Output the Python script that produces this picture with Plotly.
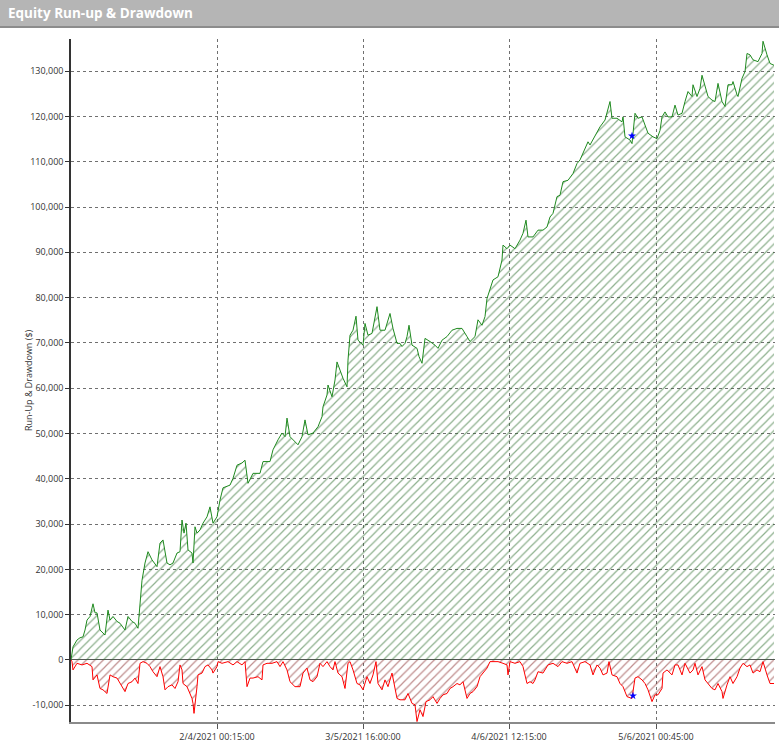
import plotly.graph_objects as go

# ---- data (trade number -> $) ----
equity_trade = [0, 2, 6, 9, 12, 14, 16, 19, 22, 24, 26, 29, 34, 37, 39, 42, 46, 49, 54, 57, 61, 64, 67, 69, 71, 74,
                77, 81, 86, 89, 92, 96, 99, 102, 106, 109, 111, 113, 115, 117, 121, 122, 124, 126, 129, 132, 136, 139,
                142, 146, 149, 152, 159, 162, 166, 171, 174, 177, 182, 189, 192, 199, 202, 207, 211, 214, 216, 219,
                224, 227, 231, 234, 237, 242, 247, 251, 252, 256, 257, 261, 264, 266, 269, 272, 276, 277, 279, 282,
                285, 287, 292, 294, 297, 301, 306, 309, 314, 319, 322, 326, 329, 331, 334, 336, 338, 341, 346, 348,
                351, 354, 359, 364, 367, 371, 376, 381, 386, 391, 396, 399, 404, 407, 411, 414, 416, 419, 422, 427,
                431, 432, 436, 439, 444, 449, 452, 455, 457, 462, 467, 472, 476, 479, 482, 486, 489, 492, 497, 502,
                506, 509, 514, 517, 519, 526, 529, 534, 537, 539, 541, 546, 551, 552, 554, 559, 561, 564, 567, 571,
                574, 577, 582, 586, 589, 591, 594, 597, 601, 604, 607, 611, 614, 617, 621, 622, 626, 629, 631, 634,
                637, 641, 644, 647, 651, 654, 657, 661, 662, 666, 667, 671, 674, 676, 679, 682, 687, 691, 692, 696,
                699, 703]
equity_value = [0, 2900, 4400, 4900, 5100, 6600, 8800, 9600, 12400, 10400, 10400, 6600, 5500, 11000, 8800, 9600,
                8500, 8100, 6600, 9600, 8500, 8100, 7000, 12500, 17600, 21400, 23900, 22100, 20600, 25800, 26500,
                21400, 21000, 21400, 23600, 23900, 30900, 28000, 30200, 24300, 23600, 21400, 29400, 28000, 28700,
                30200, 31600, 33800, 30200, 31600, 35300, 38000, 38600, 40100, 43000, 43500, 44100, 39000, 41200,
                41200, 43800, 43800, 46400, 48600, 50100, 49300, 53400, 49300, 48200, 47500, 49300, 53000, 49700,
                50100, 51500, 53700, 55900, 58500, 60700, 58100, 61800, 65800, 64000, 62200, 60300, 66200, 71700,
                72800, 75900, 70600, 69500, 74300, 71700, 72100, 78000, 72800, 72800, 76500, 73200, 69900, 69900,
                69200, 69900, 71400, 73900, 69500, 68800, 67000, 65500, 71000, 70300, 69500, 68800, 70600, 71400,
                72800, 73200, 73200, 71400, 70300, 71400, 75100, 73900, 75800, 79800, 82000, 83900, 84600, 88300,
                91600, 90800, 91600, 90800, 92700, 94200, 97100, 93400, 93400, 94900, 94900, 95600, 97800, 98600,
                102300, 102600, 105600, 105900, 107400, 109600, 110400, 112900, 114400, 113700, 116300, 117700,
                119200, 121800, 123300, 119600, 119600, 118800, 119900, 115500, 114800, 114000, 120700, 119600,
                119900, 118100, 116300, 115500, 115100, 116900, 119900, 121000, 119900, 119900, 122500, 120300,
                120700, 123300, 125500, 124400, 127000, 124400, 126200, 129100, 127000, 124400, 123600, 123300,
                127300, 123300, 122200, 127000, 127000, 127700, 124800, 124400, 128400, 129900, 133900, 133600,
                132500, 132100, 133900, 136600, 133600, 131700, 131300]

drawdown_trade = [0, 1, 2, 6, 11, 16, 21, 22, 26, 29, 32, 36, 39, 42, 46, 49, 52, 54, 57, 61, 64, 67, 69, 72, 76, 79,
                  82, 86, 89, 92, 94, 97, 101, 104, 107, 109, 111, 112, 116, 119, 121, 122, 123, 126, 127, 131, 134,
                  137, 141, 142, 146, 147, 151, 157, 162, 166, 171, 174, 176, 179, 182, 187, 191, 192, 196, 201, 206,
                  209, 212, 216, 219, 224, 229, 232, 236, 239, 242, 246, 249, 252, 256, 259, 262, 264, 267, 271, 274,
                  277, 279, 282, 286, 289, 292, 296, 299, 302, 305, 307, 311, 314, 317, 321, 324, 326, 329, 334, 337,
                  341, 344, 346, 349, 352, 355, 359, 362, 366, 369, 372, 376, 379, 382, 386, 389, 392, 396, 399, 402,
                  406, 409, 412, 416, 419, 422, 427, 432, 436, 437, 439, 444, 449, 452, 456, 459, 462, 464, 467, 472,
                  477, 482, 487, 491, 496, 501, 504, 506, 509, 514, 519, 522, 526, 529, 532, 536, 538, 541, 546, 549,
                  552, 556, 561, 564, 567, 571, 574, 577, 581, 584, 587, 591, 592, 596, 601, 604, 607, 611, 614, 619,
                  622, 624, 627, 631, 634, 637, 641, 644, 647, 651, 652, 656, 659, 662, 666, 669, 672, 676, 679, 682,
                  686, 689, 692, 696, 699, 703]
drawdown_value = [0, -370, -2200, -740, -1100, -740, -1470, -4400, -3300, -6300, -6600, -7400, -3300, -3700, -4000,
                  -5200, -6300, -7000, -5200, -4800, -4000, -5200, -740, -370, -740, -1470, -2600, -3700, -1470,
                  -3700, -6600, -5900, -5500, -6300, -4800, -1100, -2200, -5200, -5900, -7400, -8500, -9600, -11800,
                  -5900, -3300, -2900, -1470, -1100, -2200, -2900, -1470, -370, -740, -370, -1100, -370, -1100, -370,
                  -5900, -4000, -4000, -3700, -4400, -1100, -740, -740, -370, -1470, -370, -2200, -4800, -5900,
                  -5900, -2900, -1800, -4400, -4800, -3700, -740, -1470, -370, -1470, -2200, -370, -2900, -3700,
                  -6300, -740, -370, -2200, -5200, -5500, -6600, -3700, -5200, -3300, -370, -5200, -6600, -4400,
                  -5900, -2900, -6600, -8500, -8800, -8800, -7400, -9600, -9900, -13600, -11000, -12500, -9200,
                  -8800, -8100, -9600, -8500, -7700, -7400, -6300, -5900, -5200, -5500, -4800, -8500, -7400, -7000,
                  -5900, -3700, -2900, -1800, -370, -370, -370, -740, -1100, -3300, -370, -740, -370, -1470, -5200,
                  -4800, -5200, -4400, -2600, -2900, -1100, -740, -1470, -370, -740, -370, -1800, -2900, -740, -370,
                  -1100, -3300, -1100, -1800, -3300, -2900, -370, -3300, -3700, -5200, -5900, -8100, -8500, -4000,
                  -3700, -4400, -5200, -6600, -9200, -7700, -7700, -6300, -2900, -2200, -3300, -1100, -1100, -3300,
                  -740, -2900, -2200, -740, -3300, -1470, -4400, -5200, -6300, -6600, -5200, -7000, -8500, -5500,
                  -3700, -5200, -3700, -1800, -740, -1470, -1100, -2900, -2200, -2600, -370, -3300, -5200, -5200]

marker_trade = [561, 562]
marker_value = [115700, -7900]

x_tick_trades = [146, 292, 438, 585]
x_tick_labels = ["2/4/2021 00:15:00", "3/5/2021 16:00:00", "4/6/2021 12:15:00", "5/6/2021 00:45:00"]
y_tick_values = list(range(-10000, 130001, 10000))
y_tick_labels = ["-10,000", "0", "10,000", "20,000", "30,000", "40,000", "50,000", "60,000", "70,000",
                 "80,000", "90,000", "100,000", "110,000", "120,000", "130,000"]

FONT = "Open Sans"

fig = go.Figure()

fig.add_trace(go.Scatter(
    x=equity_trade, y=equity_value, mode="lines",
    line=dict(color="#1f8a1f", width=1),
    fill="tozeroy", fillcolor="rgba(255,255,255,0)",
    fillpattern=dict(shape="/", fgcolor="#2e6e2e", fgopacity=0.55, bgcolor="rgba(255,255,255,0)",
                     size=6, solidity=0.2),
    hoverinfo="skip", showlegend=False,
))
fig.add_trace(go.Scatter(
    x=drawdown_trade, y=drawdown_value, mode="lines",
    line=dict(color="#ff0000", width=1),
    fill="tozeroy", fillcolor="rgba(255,255,255,0)",
    fillpattern=dict(shape="/", fgcolor="#8a2e2e", fgopacity=0.55, bgcolor="rgba(255,255,255,0)",
                     size=6, solidity=0.2),
    hoverinfo="skip", showlegend=False,
))
fig.add_trace(go.Scatter(
    x=marker_trade, y=marker_value, mode="markers",
    marker=dict(color="#0000ff", size=6, symbol="star"),
    hoverinfo="skip", showlegend=False,
))

fig.update_layout(
    width=779, height=748,
    margin=dict(l=71, r=4, t=39, b=26),
    paper_bgcolor="white", plot_bgcolor="white",
    font=dict(family=FONT, size=9, color="#333333"),
    title=dict(text="<b>Equity Run-up & Drawdown</b>", font=dict(family=FONT, size=13.5, color="white"),
               xref="container", x=8 / 779, xanchor="left",
               yref="container", y=1 - 13.5 / 748, yanchor="middle"),
    xaxis=dict(range=[0, 704], tickmode="array", tickvals=x_tick_trades, ticktext=x_tick_labels,
               showgrid=True, gridcolor="#707070", griddash="3px,3px", gridwidth=1,
               zeroline=False, showline=True, linecolor="#8a8a8a", linewidth=2,
               ticks="outside", ticklen=5, tickcolor="#555555",
               tickfont=dict(family=FONT, size=9, color="#333333")),
    yaxis=dict(range=[-13700, 137100], tickmode="array", tickvals=y_tick_values, ticktext=y_tick_labels,
               showgrid=True, gridcolor="#707070", griddash="3px,3px", gridwidth=1,
               zeroline=True, zerolinecolor="#555555", zerolinewidth=1,
               showline=True, linecolor="#333333", linewidth=1.5,
               ticks="outside", ticklen=4, tickcolor="#333333",
               tickfont=dict(family=FONT, size=9, color="#333333")),
    shapes=[
        dict(type="rect", xref="paper", yref="paper", xsizemode="pixel", ysizemode="pixel",
             xanchor=0, yanchor=1, x0=-71, x1=708, y0=12, y1=39,
             fillcolor="#b5b5b5", line=dict(width=0), layer="above"),
        dict(type="rect", xref="paper", yref="paper", xsizemode="pixel", ysizemode="pixel",
             xanchor=0, yanchor=1, x0=-71, x1=708, y0=11, y1=13,
             fillcolor="#8c8c8c", line=dict(width=0), layer="above"),
    ],
    annotations=[
        dict(text="Run-Up & Drawdown ($)", textangle=-90, xref="paper", yref="paper",
             x=0, xshift=-51, y=0.5, showarrow=False,
             font=dict(family=FONT, size=9, color="#333333")),
    ],
)

fig.write_html("out.html", config={"displayModeBar": False},
               post_script="document.body.style.margin='0';document.body.style.overflow='hidden';")
